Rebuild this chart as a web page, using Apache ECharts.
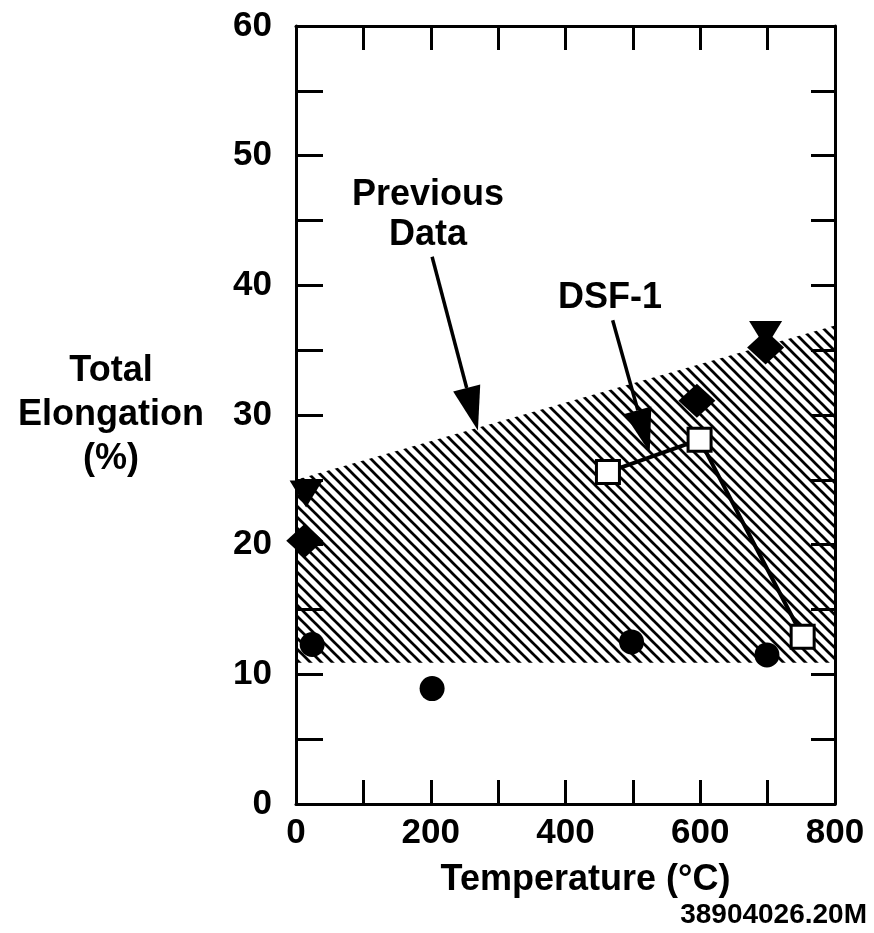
<!DOCTYPE html>
<html lang="en">
<head>
 <meta charset="UTF-8">
 <title>Total Elongation vs Temperature</title>
 <style>html,body{margin:0;padding:0;background:#fff;}</style>
</head>
<body>
 <div id="main" style="width: 874px;height:933px;"></div>
 <script src="https://cdn.jsdelivr.net/npm/echarts@6/dist/echarts.min.js"></script>
 <script type="text/javascript">

// data (temperature in C, elongation in %)
var bandX = [0, 800];
var bandLow = [10.9, 10.9];
var bandHigh = [25.0, 36.9];

var circlePts = [[24, 12.3], [202, 8.9], [498, 12.5], [699, 11.5]];
var diamondPts = [[13, 20.3], [595, 31.1], [697, 35.2]];
var trianglePts = [[15, 23.9], [697, 36.2]];
var dsf1Pts = [[463, 25.6], [599, 28.1], [752, 12.9]];

var xTicks = [0, 200, 400, 600, 800];
var yTicks = [0, 10, 20, 30, 40, 50, 60];

// annotation arrows: [start, tip] in data units
var arrows = [
    [[202, 42.2], [270, 28.8]],
    [[470, 37.3], [525, 27.1]]
];
var notes = [
    { text: 'Previous\nData', at: [196, 45.4] },
    { text: 'DSF-1', at: [466, 39.0] }
];

var FONT = '"Liberation Sans", Arial, sans-serif';

// hatch pattern  \\\\
var pat = document.createElement('canvas');
pat.width = 11; pat.height = 11;
var g = pat.getContext('2d');
g.strokeStyle = '#000';
g.lineWidth = 2.7;
[-11, 0, 11].forEach(function (k) {
    g.beginPath();
    g.moveTo(k - 1, -1);
    g.lineTo(k + 12, 12);
    g.stroke();
});

var myChart = echarts.init(document.getElementById('main'));

function baseAxis(extra) {
    var a = {
        type: 'value',
        axisLine: { show: true, onZero: false, lineStyle: { color: '#000', width: 3 } },
        axisTick: { show: true, inside: true, length: 24, lineStyle: { color: '#000', width: 3 } },
        splitLine: { show: false }
    };
    for (var k in extra) a[k] = extra[k];
    return a;
}

var solid = { color: '#000', opacity: 1 };

var option = {
    animation: false,
    backgroundColor: '#fff',
    grid: { left: 296, right: 39, top: 26, bottom: 129 },
    xAxis: [
        baseAxis({
            position: 'bottom', min: 0, max: 800, interval: 100,
            name: 'Temperature (°C)', nameLocation: 'middle', nameGap: 58,
            nameTextStyle: { fontFamily: FONT, fontWeight: 'bold', fontSize: 36, color: '#000', padding: [0, 0, 0, 40] },
            axisLabel: {
                margin: 12, fontFamily: FONT, fontWeight: 'bold', fontSize: 35, color: '#000',
                formatter: function (v) { return xTicks.indexOf(v) >= 0 ? String(v) : ''; }
            }
        }),
        baseAxis({ position: 'top', min: 0, max: 800, interval: 100, axisLabel: { show: false } })
    ],
    yAxis: [
        baseAxis({
            position: 'left', min: 0, max: 60, interval: 5,
            name: 'Total\nElongation\n(%)', nameLocation: 'middle', nameRotate: 0, nameGap: 185,
            nameTextStyle: { fontFamily: FONT, fontWeight: 'bold', fontSize: 36, lineHeight: 44, color: '#000', align: 'center', verticalAlign: 'middle' },
            axisTick: { show: true, inside: true, length: 27, lineStyle: { color: '#000', width: 3 } },
            axisLabel: {
                margin: 24, fontFamily: FONT, fontWeight: 'bold', fontSize: 35, color: '#000',
                formatter: function (v) { return yTicks.indexOf(v) >= 0 ? String(v) : ''; }
            }
        }),
        baseAxis({ position: 'right', min: 0, max: 60, interval: 5, axisLabel: { show: false } })
    ],
    series: [
        {
            name: 'Previous Data',
            type: 'custom',
            xAxisIndex: 0, yAxisIndex: 0,
            data: [0],
            silent: true,
            z: 1,
            renderItem: function (params, api) {
                var pts = [];
                for (var i = 0; i < bandX.length; i++) pts.push(api.coord([bandX[i], bandHigh[i]]));
                for (var j = bandX.length - 1; j >= 0; j--) pts.push(api.coord([bandX[j], bandLow[j]]));
                return {
                    type: 'polygon',
                    shape: { points: pts },
                    style: { fill: { image: pat, repeat: 'repeat' }, stroke: null }
                };
            }
        },
        {
            type: 'scatter', data: trianglePts, symbol: 'triangle', symbolRotate: 180,
            symbolSize: [33, 27], itemStyle: solid, z: 3
        },
        {
            type: 'scatter', data: diamondPts, symbol: 'diamond',
            symbolSize: [37, 34], itemStyle: solid, z: 3
        },
        {
            type: 'scatter', data: circlePts, symbol: 'circle',
            symbolSize: 25, itemStyle: solid, z: 3
        },
        {
            name: 'DSF-1', type: 'line', data: dsf1Pts, symbol: 'rect', symbolSize: 23,
            showAllSymbol: true,
            lineStyle: { color: '#000', width: 4 },
            itemStyle: { color: '#fff', borderColor: '#000', borderWidth: 3, opacity: 1 },
            z: 4
        }
    ]
};

myChart.setOption(option);

// arrows and notes placed through the grid's own scale
function px(p) { return myChart.convertToPixel({ gridIndex: 0 }, p); }
var gfx = [];
arrows.forEach(function (a) {
    var s = px(a[0]), t = px(a[1]);
    var dx = t[0] - s[0], dy = t[1] - s[1];
    var len = Math.sqrt(dx * dx + dy * dy);
    dx /= len; dy /= len;
    var headLen = 44, headW = 28;
    var b = [t[0] - dx * headLen, t[1] - dy * headLen];
    var nx = -dy, ny = dx;
    gfx.push({
        type: 'line', z: 10,
        shape: { x1: s[0], y1: s[1], x2: b[0], y2: b[1] },
        style: { stroke: '#000', lineWidth: 3.5 }
    });
    gfx.push({
        type: 'polygon', z: 10,
        shape: { points: [t, [b[0] + nx * headW / 2, b[1] + ny * headW / 2], [b[0] - nx * headW / 2, b[1] - ny * headW / 2]] },
        style: { fill: '#000' }
    });
});
notes.forEach(function (n) {
    var p = px(n.at);
    gfx.push({
        type: 'text', z: 10, x: p[0], y: p[1],
        style: {
            text: n.text, fill: '#000', font: 'bold 36px ' + FONT, lineHeight: 40,
            align: 'center', verticalAlign: 'middle'
        }
    });
});
gfx.push({
    type: 'text', z: 10, right: 7, top: 901,
    style: { text: '38904026.20M', fill: '#000', font: 'bold 28px ' + FONT }
});
myChart.setOption({ graphic: gfx });
 </script>
</body>
</html>
